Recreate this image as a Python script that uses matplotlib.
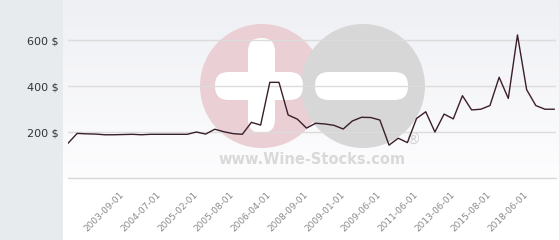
import numpy as np
import matplotlib
matplotlib.use("Agg")
import matplotlib.pyplot as plt
from matplotlib.patches import Circle, FancyBboxPatch, Rectangle

# price history (one value per category)
prices = [151, 194, 192, 191, 188, 188, 189, 190, 188, 190,
          190, 190, 190, 190, 200, 191, 212, 201, 193, 190,
          242, 230, 416, 416, 274, 256, 217, 238, 235, 229,
          213, 248, 264, 263, 252, 143, 173, 154, 259, 288,
          200, 278, 257, 358, 296, 299, 315, 438, 346, 622,
          384, 315, 299, 299]
tick_labels = ["2003-09-01", "2004-07-01", "2005-02-01", "2005-08-01",
               "2006-04-01", "2008-09-01", "2009-01-01", "2009-06-01",
               "2011-06-01", "2013-06-01", "2015-08-01", "2018-06-01"]
first_labelled = 6
label_step = 4
y_ticks = [200, 400, 600]

W, H = 560, 240
fig = plt.figure(figsize=(W / 100, H / 100), dpi=100)
fig.patch.set_facecolor("white")

# background layer in pixel coords: side panel, gradient, watermark
bg = fig.add_axes([0, 0, 1, 1], zorder=0)
bg.set_xlim(0, W)
bg.set_ylim(H, 0)
bg.axis("off")
bg.add_patch(Rectangle((0, 0), 63, H, color="#e7ebee", lw=0))
grad = np.linspace(0, 1, 100).reshape(-1, 1)
top = np.array([0.937, 0.941, 0.957])
bot = np.array([0.992, 0.992, 0.996])
img = top + (bot - top) * grad[..., None]
bg.imshow(img, extent=(63, 559, 178, 0), aspect="auto", zorder=0)
bg.plot([559.5, 559.5], [0, H], color="#a8a8a8", lw=1)

bg.add_patch(Circle((262, 86), 62, color="#eacfd5", lw=0, zorder=1))
bg.add_patch(Circle((363, 86), 62, color="#d7d7d7", lw=0, zorder=2))
bar = dict(boxstyle="round,pad=0,rounding_size=13.5", color="white", lw=0)
bg.add_patch(FancyBboxPatch((248, 38), 27, 95, zorder=3, **bar))
bg.add_patch(FancyBboxPatch((215, 72), 88, 28, zorder=3, **bar))
bg.add_patch(FancyBboxPatch((315, 72), 93, 28, zorder=3, **bar))
bg.text(312, 160, "www.Wine-Stocks.com", ha="center", va="center",
        fontsize=10.5, fontweight="bold", color="#d9d9d9", zorder=3)
bg.text(413, 139, "\u00ae", ha="center", va="center", fontsize=11,
        color="#d2d2d2", zorder=3)

# main chart
ax = fig.add_axes([68 / W, 1 - 178 / H, 488 / W, 178 / H], zorder=1)
ax.patch.set_visible(False)
x = np.arange(len(prices))
ax.plot(x, prices, color="#3a1e2a", lw=1.0, zorder=3)
ax.set_xlim(0, 53.2)
ax.set_ylim(0, 774)

ax.set_yticks(y_ticks)
ax.set_yticklabels([f"{v} $" for v in y_ticks], fontsize=8, color="#333333")
ax.yaxis.grid(True, color="#dcdcdc", lw=1)
ax.set_axisbelow(True)

ticks = list(range(first_labelled, len(prices), label_step))
ax.set_xticks(ticks)
ax.set_xticklabels(tick_labels, rotation=45, ha="right", va="center",
                   rotation_mode="anchor", fontsize=6.5, color="#8a8a8a")
ax.tick_params(axis="both", length=0)
ax.tick_params(axis="y", pad=7)
ax.tick_params(axis="x", pad=11)

for s in ["top", "right", "left"]:
    ax.spines[s].set_visible(False)
ax.spines["bottom"].set_color("#d8d8d8")
ax.spines["bottom"].set_linewidth(1)

fig.savefig("out.png", dpi=100)
